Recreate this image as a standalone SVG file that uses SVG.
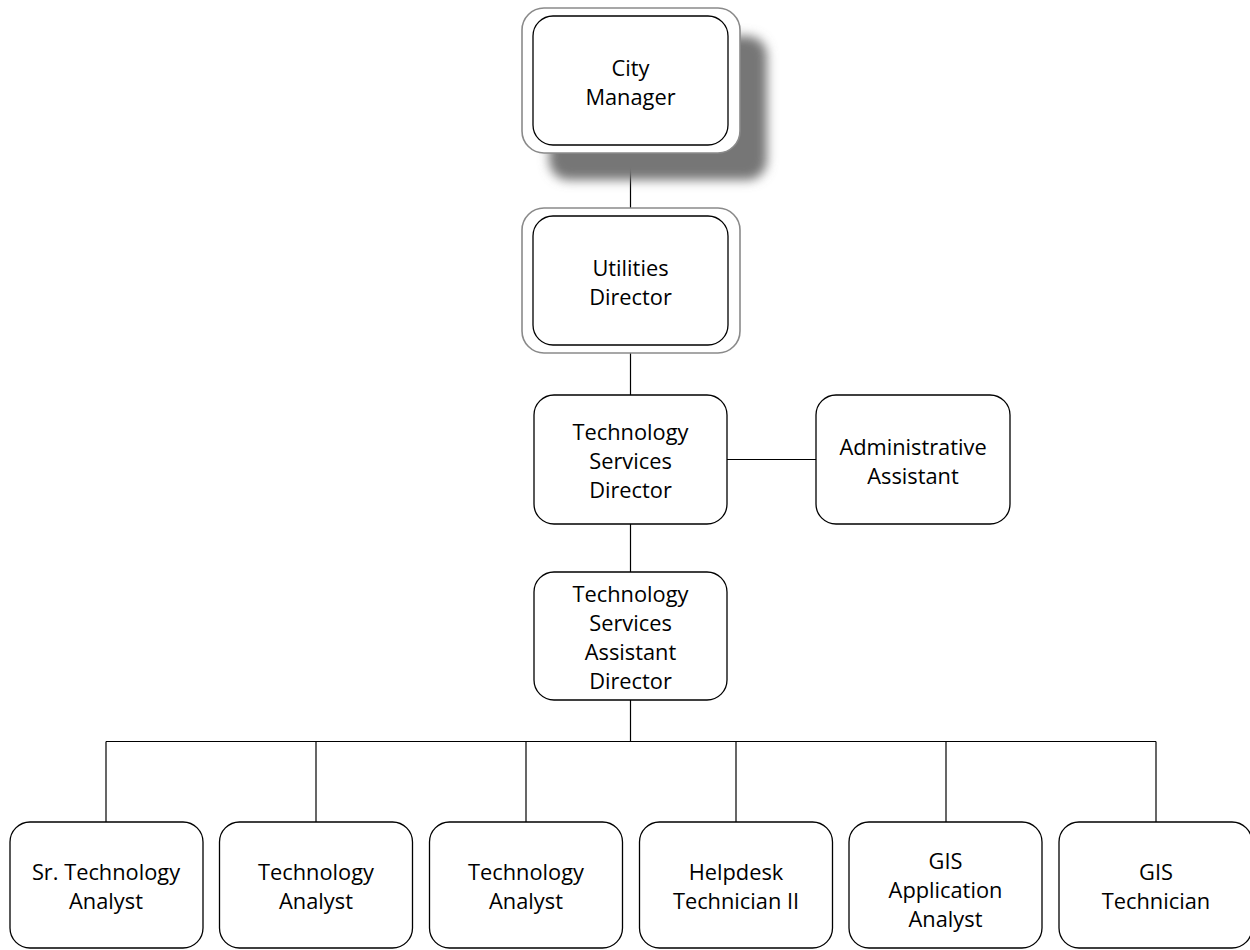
<svg xmlns="http://www.w3.org/2000/svg" width="1250" height="950" viewBox="0 0 1250 950">
  <defs>
    <filter id="soft" x="-25%" y="-25%" width="150%" height="150%">
      <feGaussianBlur stdDeviation="5.5"/>
    </filter>
    <style>
      .box { fill: #ffffff; stroke: #000000; stroke-width: 1.3; }
      .frame { fill: #ffffff; stroke: #8a8a8a; stroke-width: 1.6; }
      .shadow { fill: #767676; filter: url(#soft); }
      .link { fill: none; stroke: #000000; stroke-width: 1.2; }
      .label { font-family: "Open Sans", "Liberation Sans", sans-serif; font-size: 21.8px; fill: #000000; text-anchor: middle; }
    </style>
  </defs>
  <rect width="1250" height="950" fill="#ffffff"/>

  <g id="connectors">
    <line class="link" x1="630.5" y1="153" x2="630.5" y2="208"/>
    <line class="link" x1="630.5" y1="353" x2="630.5" y2="395"/>
    <line class="link" x1="727" y1="459.5" x2="816" y2="459.5"/>
    <line class="link" x1="630.5" y1="524" x2="630.5" y2="572"/>
    <line class="link" x1="630.5" y1="700" x2="630.5" y2="741.5"/>
    <line class="link" x1="106" y1="741.5" x2="1156" y2="741.5"/>
    <line class="link" x1="106" y1="741.5" x2="106" y2="822"/>
    <line class="link" x1="316" y1="741.5" x2="316" y2="822"/>
    <line class="link" x1="526" y1="741.5" x2="526" y2="822"/>
    <line class="link" x1="736" y1="741.5" x2="736" y2="822"/>
    <line class="link" x1="946" y1="741.5" x2="946" y2="822"/>
    <line class="link" x1="1156" y1="741.5" x2="1156" y2="822"/>
  </g>

  <g id="city-manager">
    <rect class="shadow" x="549" y="36" width="218" height="144" rx="20"/>
    <rect class="frame" x="522" y="8" width="218" height="145" rx="22"/>
    <rect class="box" x="533" y="16" width="195" height="129" rx="20"/>
    <text class="label" x="630.5" y="75.5">City</text>
    <text class="label" x="630.5" y="104.5">Manager</text>
  </g>

  <g id="utilities-director">
    <rect class="frame" x="522" y="208" width="218" height="145" rx="22"/>
    <rect class="box" x="533" y="216" width="195" height="129" rx="20"/>
    <text class="label" x="630.5" y="275.5">Utilities</text>
    <text class="label" x="630.5" y="304.5">Director</text>
  </g>

  <g id="tech-services-director">
    <rect class="box" x="534" y="395" width="193" height="129" rx="20"/>
    <text class="label" x="630.5" y="440">Technology</text>
    <text class="label" x="630.5" y="469">Services</text>
    <text class="label" x="630.5" y="498">Director</text>
  </g>

  <g id="administrative-assistant">
    <rect class="box" x="816" y="395" width="194" height="129" rx="20"/>
    <text class="label" x="913" y="454.5">Administrative</text>
    <text class="label" x="913" y="483.5">Assistant</text>
  </g>

  <g id="tech-services-assistant-director">
    <rect class="box" x="534" y="572" width="193" height="128" rx="20"/>
    <text class="label" x="630.5" y="602">Technology</text>
    <text class="label" x="630.5" y="631">Services</text>
    <text class="label" x="630.5" y="660">Assistant</text>
    <text class="label" x="630.5" y="689">Director</text>
  </g>

  <g id="sr-technology-analyst">
    <rect class="box" x="10" y="822" width="193" height="126" rx="20"/>
    <text class="label" x="106" y="879.5">Sr. Technology</text>
    <text class="label" x="106" y="908.5">Analyst</text>
  </g>

  <g id="technology-analyst-1">
    <rect class="box" x="219.5" y="822" width="193" height="126" rx="20"/>
    <text class="label" x="316" y="879.5">Technology</text>
    <text class="label" x="316" y="908.5">Analyst</text>
  </g>

  <g id="technology-analyst-2">
    <rect class="box" x="429.5" y="822" width="193" height="126" rx="20"/>
    <text class="label" x="526" y="879.5">Technology</text>
    <text class="label" x="526" y="908.5">Analyst</text>
  </g>

  <g id="helpdesk-technician">
    <rect class="box" x="639.5" y="822" width="193" height="126" rx="20"/>
    <text class="label" x="736" y="879.5">Helpdesk</text>
    <text class="label" x="736" y="908.5">Technician II</text>
  </g>

  <g id="gis-application-analyst">
    <rect class="box" x="849" y="822" width="193" height="126" rx="20"/>
    <text class="label" x="945.5" y="869">GIS</text>
    <text class="label" x="945.5" y="898">Application</text>
    <text class="label" x="945.5" y="927">Analyst</text>
  </g>

  <g id="gis-technician">
    <rect class="box" x="1059" y="822" width="193" height="126" rx="20"/>
    <text class="label" x="1156" y="879.5">GIS</text>
    <text class="label" x="1156" y="908.5">Technician</text>
  </g>
</svg>
